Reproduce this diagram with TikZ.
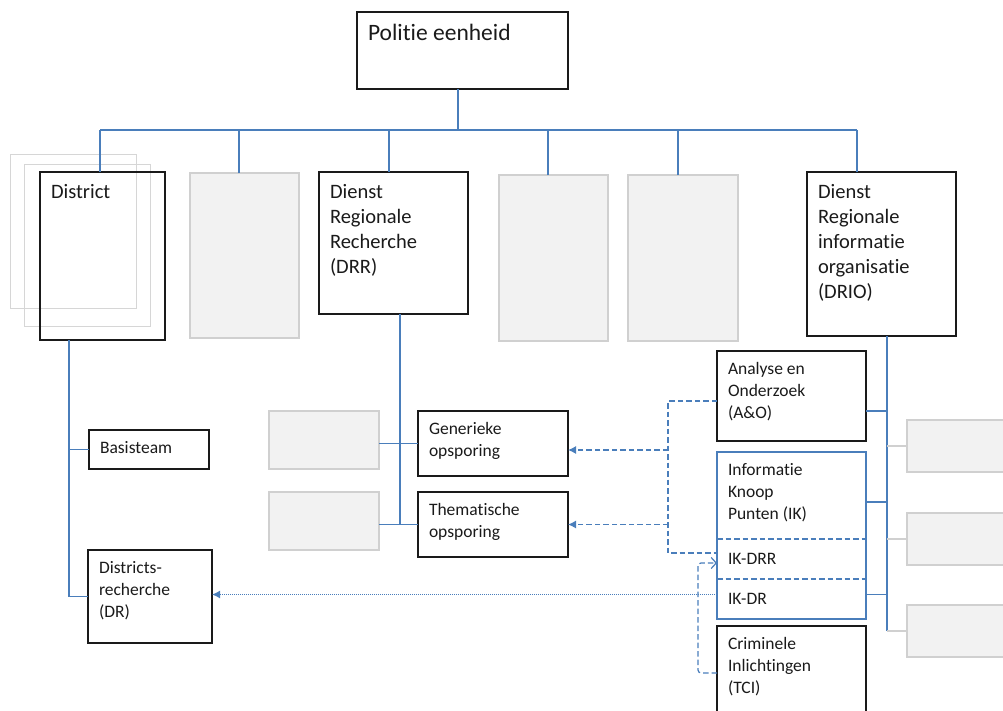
\documentclass[tikz,border=0pt]{standalone}
\usepackage{fontspec}
\setmainfont[Ligatures=NoCommon]{Carlito}
\usetikzlibrary{arrows.meta}
\definecolor{linkblue}{RGB}{74,126,187}
\definecolor{sparefill}{RGB}{242,242,242}
\definecolor{spareedge}{RGB}{208,208,208}
\definecolor{ghostedge}{RGB}{214,214,214}
\definecolor{ink}{RGB}{26,26,26}

\begin{document}
\begin{tikzpicture}[x=1pt, y=-1pt,
  every node/.style={anchor=north west, inner sep=0pt, outer sep=0pt},
  orgbox/.style={draw=ink, line width=1.4pt},
  spare/.style={draw=spareedge, fill=sparefill, line width=1.3pt},
  ghost/.style={draw=ghostedge, line width=1pt},
  headtext/.style={label={[anchor=north west, inner xsep=11pt, inner ysep=12pt, text=ink,
    font=\fontsize{23.5}{28}\selectfont]north west:{#1}}},
  bigtext/.style={label={[anchor=north west, inner xsep=11pt, inner ysep=12pt, align=left, text=ink,
    font=\fontsize{20.5}{25}\selectfont]north west:{#1}}},
  smalltext/.style={label={[anchor=north west, inner xsep=11pt, inner ysep=11pt, align=left, text=ink,
    font=\fontsize{17.5}{22}\selectfont]north west:{#1}}},
  section/.style={minimum height=40pt, text width=127pt, inner xsep=11pt, align=left, text=ink,
    font=\fontsize{17.5}{22}\selectfont},
  orgline/.style={draw=linkblue, line width=1.3pt},
  spareconn/.style={draw=spareedge, line width=1.3pt},
  dashlink/.style={draw=linkblue, line width=1.2pt, dash pattern=on 5.5pt off 3pt},
  dasharrow/.style={dashlink, -{Latex[length=8pt,width=8pt]}},
  dotlink/.style={draw=linkblue, line width=1.3pt, dash pattern=on 1pt off 1pt, -{Latex[length=8pt,width=8pt]}}
]
\useasboundingbox (0,0) rectangle (1003,710);

% top level
\node[orgbox, minimum width=211pt, minimum height=77pt, headtext={Politie eenheid}] (politie) at (357,12) {};

% second level
\node[ghost, minimum width=126pt, minimum height=154pt] (ghostA) at (10,154) {};
\node[ghost, minimum width=126pt, minimum height=162pt] (ghostB) at (24,164) {};
\node[orgbox, minimum width=125pt, minimum height=168pt, bigtext={District}] (district) at (40,172) {};
\node[spare, minimum width=109pt, minimum height=165pt] (spare1) at (190,173) {};
\node[orgbox, minimum width=149pt, minimum height=142pt, bigtext={Dienst\\Regionale\\Recherche\\(DRR)}] (drr) at (319,172) {};
\node[spare, minimum width=109pt, minimum height=166pt] (spare2) at (499,175) {};
\node[spare, minimum width=110pt, minimum height=166pt] (spare3) at (628,175) {};
\node[orgbox, minimum width=149pt, minimum height=164pt, bigtext={Dienst\\Regionale\\informatie\\organisatie\\(DRIO)}] (drio) at (807,172) {};

% district
\node[orgbox, minimum width=120pt, minimum height=39pt, smalltext={Basisteam}] (basis) at (89,430) {};
\node[orgbox, minimum width=124pt, minimum height=93pt, smalltext={Districts-\\recherche\\(DR)}] (dr) at (88,550) {};

% recherche
\node[spare, minimum width=110pt, minimum height=58pt] (spareG) at (269,411) {};
\node[spare, minimum width=110pt, minimum height=58pt] (spareT) at (269,492) {};
\node[orgbox, minimum width=150pt, minimum height=65pt, smalltext={Generieke\\opsporing}] (gen) at (418,411) {};
\node[orgbox, minimum width=150pt, minimum height=65pt, smalltext={Thematische\\opsporing}] (them) at (418,492) {};

% informatie organisatie
\node[orgbox, minimum width=149pt, minimum height=90pt, smalltext={Analyse en\\Onderzoek\\(A\&O)}] (ao) at (717,351) {};
\node[draw=linkblue, line width=1.3pt, minimum width=149pt, minimum height=167pt, smalltext={Informatie\\Knoop\\Punten (IK)}] (ik) at (717,452) {};
\node[section] (ikdrr) at (717,539) {IK-DRR};
\node[section] (ikdr) at (717,579) {IK-DR};
\node[orgbox, minimum width=149pt, minimum height=95pt, smalltext={Criminele\\Inlichtingen\\(TCI)}] (crim) at (717,626) {};
\node[spare, minimum width=110pt, minimum height=52pt] (spareR1) at (907,420) {};
\node[spare, minimum width=110pt, minimum height=52pt] (spareR2) at (907,513) {};
\node[spare, minimum width=110pt, minimum height=52pt] (spareR3) at (907,605) {};

\draw[dashlink] (ikdrr.north west) -- (ikdrr.north east);
\draw[dashlink] (ikdr.north west) -- (ikdr.north east);

% top tree
\coordinate (busL) at (100,130);
\coordinate (busR) at (857,130);
\draw[orgline] (busL) -- (busR);
\draw[orgline] ([xshift=-4.5pt]politie.south) -- ([xshift=-4.5pt]politie.south |- busL);
\draw[orgline] ([xshift=-2.5pt]district.north) -- ([xshift=-2.5pt]district.north |- busL);
\draw[orgline] ([xshift=-5.5pt]spare1.north) -- ([xshift=-5.5pt]spare1.north |- busL);
\draw[orgline] ([xshift=-4.5pt]drr.north) -- ([xshift=-4.5pt]drr.north |- busL);
\draw[orgline] ([xshift=-5.5pt]spare2.north) -- ([xshift=-5.5pt]spare2.north |- busL);
\draw[orgline] ([xshift=-5pt]spare3.north) -- ([xshift=-5pt]spare3.north |- busL);
\draw[orgline] ([xshift=-24.5pt]drio.north) -- ([xshift=-24.5pt]drio.north |- busL);

% district tree
\coordinate (dtrunk) at ([xshift=-33.5pt]district.south);
\draw[orgline] (dtrunk) |- (dr.west);
\draw[orgline] (basis.west) -- (basis.west -| dtrunk);

% recherche tree
\coordinate (rtrunk) at ([xshift=6.5pt]drr.south);
\draw[orgline] (rtrunk) -- (rtrunk |- them.west);
\draw[orgline] (gen.west -| spareG.east) -- (gen.west);
\draw[orgline] (them.west -| spareT.east) -- (them.west);

% drio tree
\coordinate (itrunk) at ([xshift=5.5pt]drio.south);
\draw[orgline] (itrunk) -- (itrunk |- spareR3.west);
\draw[orgline] ([yshift=-15pt]ao.east) -- ([yshift=-15pt]ao.east -| itrunk);
\draw[orgline] ([yshift=-50pt]ik.north east) -- ([yshift=-50pt]ik.north east -| itrunk);
\draw[orgline] ([yshift=4.5pt]ikdr.east) -- ([yshift=4.5pt]ikdr.east -| itrunk);
\draw[spareconn] (spareR1.west) -- (spareR1.west -| itrunk);
\draw[spareconn] (spareR2.west) -- (spareR2.west -| itrunk);
\draw[spareconn] (spareR3.west) -- (spareR3.west -| itrunk);

% information flows
\draw[dashlink] ([yshift=-5pt]ao.west) -- ++(-49,0) coordinate (aoturn) |- ([yshift=6pt]ikdrr.west);
\draw[dasharrow] ([yshift=-6.5pt]gen.east -| aoturn) -- ([yshift=-6.5pt]gen.east);
\draw[dasharrow] (them.east -| aoturn) -- (them.east);
\draw[dashlink, rounded corners=3pt, -{Straight Barb[length=5pt,width=11pt]}]
  ([yshift=-47pt]crim.north west) -- ++(-19,0) |- ([yshift=-4pt]ikdrr.west);
\draw[dotlink] ([yshift=4.5pt]ikdr.west) -- ([yshift=4.5pt]ikdr.west -| dr.east);
\end{tikzpicture}
\end{document}
